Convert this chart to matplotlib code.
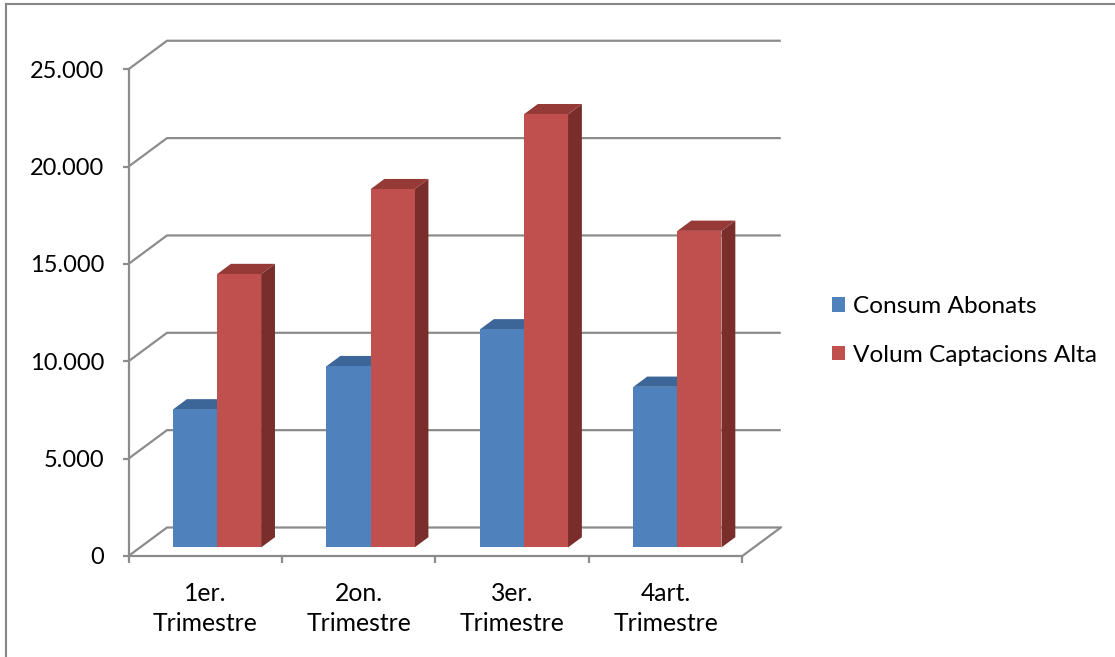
import matplotlib.pyplot as plt
from matplotlib.patches import Polygon, Patch
from matplotlib.lines import Line2D
from matplotlib.ticker import FuncFormatter

trimestres = ['1er.\nTrimestre', '2on.\nTrimestre', '3er.\nTrimestre', '4art.\nTrimestre']
consum_abonats = [7090, 9310, 11200, 8250]
volum_captacions = [14040, 18400, 22250, 16260]
series_names = ['Consum Abonats', 'Volum Captacions Alta']

blue = {'front': '#4F81BD', 'top': '#3C6598', 'side': '#31527A'}
red = {'front': '#C0504D', 'top': '#953A37', 'side': '#7A2E2C'}
grid_col = '#8C8C8C'

plt.rcParams['font.family'] = ['Lato', 'DejaVu Sans']

W_PX, H_PX = 1115, 657
fig = plt.figure(figsize=(W_PX / 100, H_PX / 100), dpi=100)

# front plane of the 3d box, in pixels
x0, cat_w, y0, px_per_unit = 128.5, 153.45, 556, 0.01947
ax = fig.add_axes([x0 / W_PX, (H_PX - y0) / H_PX,
                   4.5 * cat_w / W_PX, 27000 * px_per_unit / H_PX])
ax.set_xlim(0, 4.5)
ax.set_ylim(0, 27000)
ax.patch.set_visible(False)

# oblique depth of the box, in data units
DX = 38.5 / cat_w
DY = 28.5 / px_per_unit
n = len(trimestres)

# walls / gridlines
for v in range(0, 25001, 5000):
    ax.plot([0, DX, n + DX], [v, v + DY, v + DY], color=grid_col, lw=1.6,
            zorder=1, solid_capstyle='butt', clip_on=False)
ax.plot([n, n + DX], [0, DY], color=grid_col, lw=1.6, zorder=1, clip_on=False)

# columns
d0, d1 = 0.30, 0.66
gap, bw = 0.215, 0.287
ddx, ddy = (d1 - d0) * DX, (d1 - d0) * DY
for i in range(n):
    for s, (vals, col) in enumerate([(consum_abonats, blue), (volum_captacions, red)]):
        v = vals[i]
        xl = i + gap + s * bw + d0 * DX
        xr = xl + bw
        yb = d0 * DY
        yt = yb + v
        side = [(xr, yb), (xr + ddx, yb + ddy), (xr + ddx, yt + ddy), (xr, yt)]
        top = [(xl, yt), (xr, yt), (xr + ddx, yt + ddy), (xl + ddx, yt + ddy)]
        front = [(xl, yb), (xr, yb), (xr, yt), (xl, yt)]
        ax.add_patch(Polygon(side, closed=True, fc=col['side'], ec='none', zorder=3 + s))
        ax.add_patch(Polygon(top, closed=True, fc=col['top'], ec='none', zorder=3 + s))
        ax.add_patch(Polygon(front, closed=True, fc=col['front'], ec='none', zorder=3 + s))

# axes
for sp in ['top', 'right']:
    ax.spines[sp].set_visible(False)
for sp in ['left', 'bottom']:
    ax.spines[sp].set_color(grid_col)
    ax.spines[sp].set_linewidth(1.6)
ax.spines['left'].set_bounds(0, 25000)
ax.spines['bottom'].set_bounds(0, n)

ax.set_yticks(range(0, 25001, 5000))
ax.yaxis.set_major_formatter(FuncFormatter(lambda v, p: f'{v:,.0f}'.replace(',', '.')))
ax.tick_params(axis='y', direction='out', length=4.5, width=1.6, color=grid_col,
               labelsize=17, pad=13)

ax.set_xticks(range(n + 1))
ax.set_xticklabels([])
ax.set_xticks([i + 0.5 for i in range(n)], minor=True)
ax.set_xticklabels(trimestres, minor=True)
ax.tick_params(axis='x', which='major', direction='out', length=5, width=1.6, color=grid_col)
ax.tick_params(axis='x', which='minor', length=0, labelsize=17.8, pad=19)
for t in ax.xaxis.get_minorticklabels():
    t.set_linespacing(1.33)

handles = [Patch(fc=blue['front'], ec='none'), Patch(fc=red['front'], ec='none')]
fig.legend(handles, series_names, loc='center left',
           bbox_to_anchor=(832 / W_PX, 1 - 331 / H_PX), frameon=False, fontsize=17.6,
           handlelength=0.55, handleheight=0.55, handletextpad=0.3,
           labelspacing=1.12, borderpad=0, borderaxespad=0)

# chart area border
fig.add_artist(Line2D([6 / W_PX, 6 / W_PX], [0, 1 - 4 / H_PX], color='#868686', lw=1.5))
fig.add_artist(Line2D([6 / W_PX, 1], [1 - 4 / H_PX, 1 - 4 / H_PX], color='#868686', lw=1.5))

fig.savefig('out.png', dpi=100)
